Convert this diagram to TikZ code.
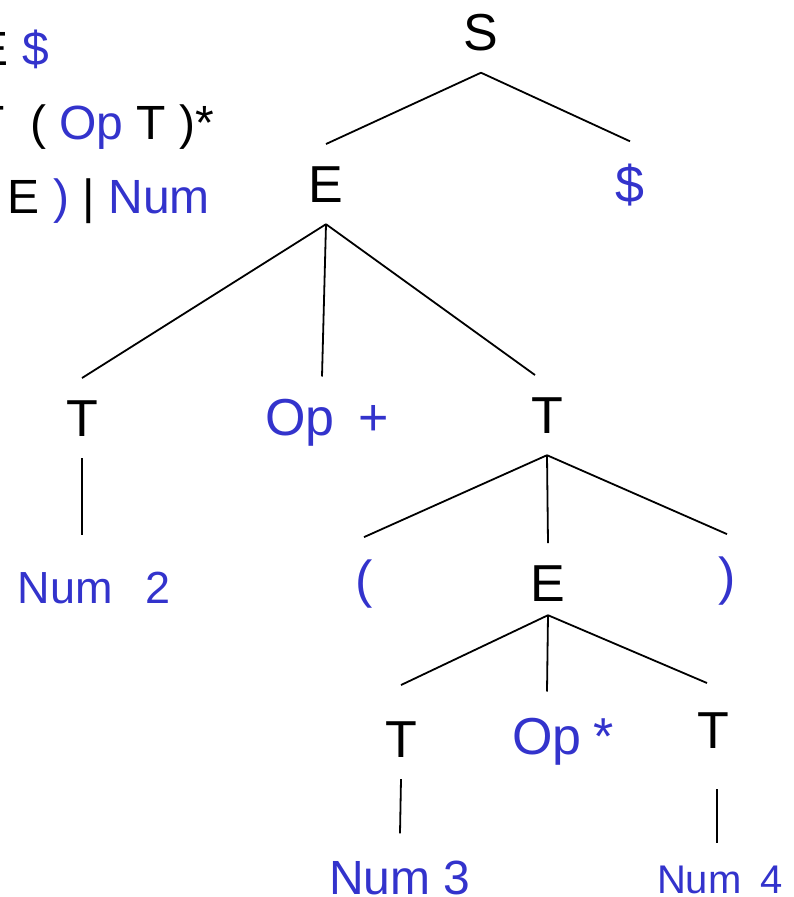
\documentclass[tikz,border=0pt]{standalone}
\usepackage{fontspec}
\setmainfont{Liberation Sans}
\usepackage{xcolor}
\usepackage{tikz}
\definecolor{tblue}{RGB}{51,51,204}

\begin{document}
\begin{tikzpicture}[
    x=1pt, y=-1pt,
    nt/.style={font=\fontsize{52}{60}\selectfont, anchor=base, inner xsep=0pt, inner ysep=22pt},
    tm/.style={nt, text=tblue},
    num/.style={tm, font=\fontsize{#1}{#1}\selectfont},
    gram/.style={font=\fontsize{48}{56}\selectfont, anchor=base east, inner sep=0pt},
    branch/.style={line width=1.8pt},
]
\useasboundingbox (0,0) rectangle (794,897);
\clip (0,0) rectangle (794,897);

% ---- Grammaire (coupée à gauche) ----
\node[gram] (g1) at (49,65) {E \textcolor{tblue}{\$}};
\node[gram] (g2a) at (5,139) {T};
\node[gram, anchor=base west] (g2) at (30,139) {( \textcolor{tblue}{Op} T )*};
\node[gram] (g3) at (210,213) {E \textcolor{tblue}{)} | \textcolor{tblue}{Num}};

% ---- Arbre syntaxique ----
\node[nt] (S) at (481,50) {S};
\node[nt] (E1) at (326,202) {E};
\node[tm] (dol) at (630,202) {\$};
\node[nt] (T1) at (82,436) {T};
\node[tm] (opA) at (327,435) {Op\hspace{0.46em}+};
\node[nt] (T2) at (547,433) {T};
\node[num=45] (num2) at (94,603) {Num\hspace{0.72em}2};
\node[tm] (lp) at (364,597) {(};
\node[nt] (E2) at (548,601) {E};
\node[tm] (rp) at (727,594) {)};
\node[nt] (T3) at (401,757) {T};
\node[tm] (opB) at (563,754) {Op\hspace{0.23em}*};
\node[nt] (T4) at (713,748) {T};
\node[num=48] (num3) at (400,894) {Num 3};
\node[num=40] (num4) at (720,893) {Num\hspace{0.48em}4};

% ---- Branches ----
\foreach \a/\b in {S/E1, S/dol, E1/T1, T2/lp, T2/E2, T2/rp} {
    \draw[branch] (\a.south) -- (\b.north);
}
\draw[branch] (E1.south) -- ([xshift=-5pt]opA.north);
\draw[branch] (E1.south) -- ([xshift=-12pt]T2.north);
\draw[branch] (T1.south) -- ([xshift=-12pt,yshift=14pt]num2.north);
\draw[branch] ([yshift=8pt]E2.south) -- ([yshift=14pt]T3.north);
\draw[branch] ([yshift=8pt]E2.south) -- ([xshift=-16pt,yshift=4pt]opB.north);
\draw[branch] ([yshift=8pt]E2.south) -- ([xshift=-6pt,yshift=7pt]T4.north);
\draw[branch] (T3.south) -- ([yshift=5pt]num3.north);
\draw[branch] ([xshift=4pt,yshift=-19pt]T4.south) -- ([xshift=-3pt]num4.north);

\end{tikzpicture}
\end{document}
